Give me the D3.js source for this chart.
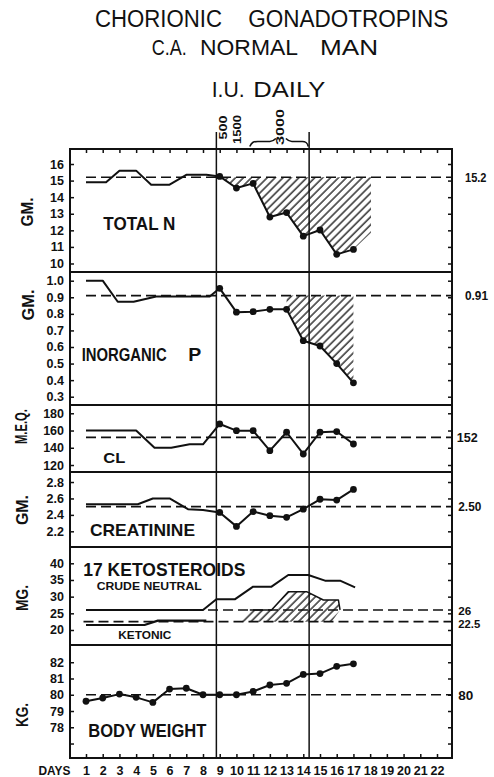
<!DOCTYPE html>
<html>
<head>
<meta charset="utf-8">
<title>Chorionic Gonadotropins, C.A. Normal Man</title>
<script src="https://cdn.jsdelivr.net/npm/d3@7"></script>
<style>
	body { margin: 0; background: #fff; }
	svg { display: block; }
	text { font-family: "Liberation Sans", Arial, Helvetica, sans-serif; fill: #111; }
</style>
</head>
<body>
<div id="chart"></div>
<script>
"use strict";

//days along the bottom
var day_ticks = [1, 2, 3, 4, 5, 6, 7, 8, 9, 10, 11, 12, 13, 14, 15, 16, 17, 18, 19, 20, 21, 22];

//gonadotropin doses, I.U. daily
var dose_labels = ["500", "1500", "3000"];
var dose_days = [9.2, 10.05, 12.6];
var treatment_days = [8.8, 14.35];
var brace_days = [10.8, 14.3];

//total N (gm)
var total_n_ticks = [10, 11, 12, 13, 14, 15, 16];
var total_n_ref = 15.2;
var total_n_fore_days = [1, 2.2, 3, 4, 4.9, 6, 7, 8.2];
var total_n_fore = [14.9, 14.9, 15.6, 15.6, 14.75, 14.75, 15.35, 15.35];
var total_n_days = [9, 10, 11, 12, 13, 14, 15, 16, 17];
var total_n = [15.25, 14.55, 14.83, 12.8, 13.07, 11.65, 12.02, 10.55, 10.85];
var total_n_shade_days = [9, 18.05, 18.05, 17, 16, 15, 14, 13, 12, 11, 10, 9];
var total_n_shade = [15.2, 15.2, 11.86, 10.85, 10.55, 12.02, 11.65, 13.07, 12.8, 14.83, 14.55, 15.25];

//inorganic P (gm)
var phos_ticks = [0.3, 0.4, 0.5, 0.6, 0.7, 0.8, 0.9, 1.0];
var phos_ref = 0.91;
var phos_fore_days = [1, 2, 2.9, 3.85, 5.2, 8.4];
var phos_fore = [1.0, 1.0, 0.873, 0.873, 0.905, 0.905];
var phos_days = [9, 10, 11, 12, 13, 14, 15, 16, 17];
var phos = [0.954, 0.81, 0.813, 0.827, 0.827, 0.638, 0.606, 0.50, 0.384];
var phos_shade_days = [13, 17, 17, 16, 15, 14, 13];
var phos_shade = [0.91, 0.91, 0.384, 0.50, 0.606, 0.638, 0.827];

//chloride (m.e.q.)
var cl_ticks = [120, 140, 160, 180];
var cl_ref = 152;
var cl_fore_days = [1, 4, 5.1, 6.1, 7.2, 8];
var cl_fore = [160, 160, 140, 140, 144, 144];
var cl_days = [9, 10, 11, 12, 13, 14, 15, 16, 17];
var cl = [167.6, 159.8, 159.8, 136.6, 158, 132.8, 158, 158.8, 144.4];

//creatinine (gm)
var creat_ticks = [2.2, 2.4, 2.6, 2.8];
var creat_ref = 2.50;
var creat_fore_days = [1, 4.1, 5, 6, 7.1, 8];
var creat_fore = [2.53, 2.53, 2.6, 2.6, 2.47, 2.46];
var creat_days = [9, 10, 11, 12, 13, 14, 15, 16, 17];
var creat = [2.43, 2.26, 2.44, 2.39, 2.37, 2.47, 2.59, 2.58, 2.71];

//17 ketosteroids (mg)
var keto_ticks = [20, 25, 30, 35, 40];
var crude_ref = 26;
var ketonic_ref = 22.5;
var crude_days = [1, 8, 8.8, 9.9, 11, 12.1, 13.1, 14.3, 15.3, 16.2, 17.1];
var crude = [26, 26, 29.2, 29.2, 33, 33, 36.5, 36.5, 34.8, 34.8, 32.8];
var ketonic_days = [1, 4.5, 5.3, 8.2];
var ketonic = [21.5, 21.5, 22.8, 22.8];
var ketonic_shade_days = [10.2, 10.8, 12.1, 13.1, 14.2, 15.2, 16.1, 16.2, 15.7];
var ketonic_shade = [22.5, 26, 26, 31.5, 31.5, 29, 29, 26, 22.5];

//body weight (kg)
var weight_ticks = [77, 78, 79, 80, 81, 82];
var weight_tick_labels = ["", "78", "79", "80", "81", "82"];
var weight_ref = 80;
var weight_days = [1, 2, 3, 4, 5, 6, 7, 8, 9, 10, 11, 12, 13, 14, 15, 16, 17];
var weight = [79.6, 79.8, 80.04, 79.84, 79.53, 80.35, 80.4, 80.0, 80.0, 80.0, 80.2, 80.6, 80.7, 81.25, 81.3, 81.75, 81.9];

// ---- layout ----
var ink = "#111";
var frame = { left: 70, right: 452, top: 149, bottom: 758 };

var x = d3.scaleLinear().domain([1, 22]).range([86, 437]);

var y_total_n = d3.scaleLinear().domain([9.487, 16.905]).range([272, 149]),
	y_phos = d3.scaleLinear().domain([0.25, 1.0525]).range([405, 272]),
	y_cl = d3.scaleLinear().domain([111.9, 189.6]).range([472, 405]),
	y_creat = d3.scaleLinear().domain([2.009, 2.922]).range([547, 472]),
	y_keto = d3.scaleLinear().domain([15.5, 44.89]).range([645, 547]),
	y_weight = d3.scaleLinear().domain([76.11, 83.06]).range([758, 645]);

var svg = d3.select("#chart").append("svg")
	.attr("width", 494)
	.attr("height", 777);

svg.append("defs").append("pattern")
	.attr("id", "hatch")
	.attr("patternUnits", "userSpaceOnUse")
	.attr("width", 5.6)
	.attr("height", 10)
	.attr("patternTransform", "rotate(45)")
	.append("line")
		.attr("x1", 1).attr("y1", 0)
		.attr("x2", 1).attr("y2", 10)
		.attr("stroke", ink)
		.attr("stroke-width", 1.3);

function zip(days, vals) {
	return days.map(function(d, i) { return [d, vals[i]]; });
}

function lineFor(y) {
	return d3.line()
		.x(function(d) { return x(d[0]); })
		.y(function(d) { return y(d[1]); });
}

function drawShade(y, days, vals) {
	svg.append("path")
		.attr("d", lineFor(y)(zip(days, vals)) + "Z")
		.attr("fill", "url(#hatch)")
		.attr("stroke", "none");
}

function drawRef(y, value, from_day) {
	svg.append("line")
		.attr("x1", x(from_day))
		.attr("x2", frame.right)
		.attr("y1", y(value))
		.attr("y2", y(value))
		.attr("stroke", ink)
		.attr("stroke-width", 1.6)
		.attr("stroke-dasharray", "10,5");
}

function drawLine(y, days, vals, width) {
	svg.append("path")
		.attr("d", lineFor(y)(zip(days, vals)))
		.attr("fill", "none")
		.attr("stroke", ink)
		.attr("stroke-width", width || 2)
		.attr("stroke-linejoin", "round");
}

function drawDots(y, days, vals) {
	svg.append("g").selectAll("circle")
		.data(zip(days, vals))
		.enter().append("circle")
			.attr("cx", function(d) { return x(d[0]); })
			.attr("cy", function(d) { return y(d[1]); })
			.attr("r", 3.4)
			.attr("fill", ink);
}

//fore period line runs into the first daily point
function drawSeries(y, fore_days, fore, days, vals) {
	drawLine(y, fore_days.concat([days[0]]), fore.concat([vals[0]]));
	drawLine(y, days, vals);
	drawDots(y, days, vals);
}

function drawAxes(y, ticks, fmt) {
	svg.append("g")
		.attr("transform", "translate(" + frame.left + ",0)")
		.call(d3.axisLeft(y).tickValues(ticks).tickSizeInner(-4).tickSizeOuter(0).tickPadding(6).tickFormat(fmt))
		.call(styleAxis);
	svg.append("g")
		.attr("transform", "translate(" + frame.right + ",0)")
		.call(d3.axisRight(y).tickValues(ticks).tickSizeInner(-4).tickSizeOuter(0).tickFormat(""))
		.call(styleAxis);
}

function styleAxis(g) {
	g.select(".domain").remove();
	g.selectAll(".tick line").attr("stroke", ink).attr("stroke-width", 1.5);
	g.selectAll(".tick text")
		.attr("fill", ink)
		.attr("font-family", "Liberation Sans, Arial, sans-serif")
		.attr("font-size", 12.5)
		.attr("font-weight", "bold");
}

function addText(str, px, py, size, len, weight, anchor) {
	var t = svg.append("text")
		.attr("x", px)
		.attr("y", py)
		.attr("font-size", size)
		.attr("font-weight", weight || "bold")
		.attr("text-anchor", anchor || "start")
		.text(str);
	if(len) t.attr("textLength", len).attr("lengthAdjust", "spacingAndGlyphs");
	return t;
}

function unitLabel(str, cx, cy, len) {
	svg.append("text")
		.attr("transform", "translate(" + cx + "," + cy + ") rotate(-90)")
		.attr("dy", "0.35em")
		.attr("font-size", 17)
		.attr("font-weight", "bold")
		.attr("text-anchor", "middle")
		.attr("textLength", len)
		.attr("lengthAdjust", "spacingAndGlyphs")
		.text(str);
}

//shaded deficits go underneath everything
drawShade(y_total_n, total_n_shade_days, total_n_shade);
drawShade(y_phos, phos_shade_days, phos_shade);
drawShade(y_keto, ketonic_shade_days, ketonic_shade);
drawLine(y_keto, ketonic_shade_days.slice(1, 8), ketonic_shade.slice(1, 8), 1.5);

//normal levels
drawRef(y_total_n, total_n_ref, 1);
drawRef(y_phos, phos_ref, 1);
drawRef(y_cl, cl_ref, 1);
drawRef(y_creat, creat_ref, 1);
drawRef(y_keto, crude_ref, 8.3);
drawRef(y_keto, ketonic_ref, 0.85);
drawRef(y_weight, weight_ref, 1);

//data
drawSeries(y_total_n, total_n_fore_days, total_n_fore, total_n_days, total_n);
drawSeries(y_phos, phos_fore_days, phos_fore, phos_days, phos);
drawSeries(y_cl, cl_fore_days, cl_fore, cl_days, cl);
drawSeries(y_creat, creat_fore_days, creat_fore, creat_days, creat);
drawLine(y_keto, crude_days, crude);
drawLine(y_keto, ketonic_days, ketonic, 2.2);
drawLine(y_weight, weight_days, weight);
drawDots(y_weight, weight_days, weight);

//frame and panel dividers
svg.append("rect")
	.attr("x", frame.left)
	.attr("y", frame.top)
	.attr("width", frame.right - frame.left)
	.attr("height", frame.bottom - frame.top)
	.attr("fill", "none")
	.attr("stroke", ink)
	.attr("stroke-width", 2);

[y_total_n, y_phos, y_cl, y_creat, y_keto].forEach(function(y) {
	svg.append("line")
		.attr("x1", frame.left).attr("x2", frame.right)
		.attr("y1", y.range()[0]).attr("y2", y.range()[0])
		.attr("stroke", ink)
		.attr("stroke-width", 2);
});

//start and end of injections
svg.selectAll(".treatment")
	.data(treatment_days)
	.enter().append("line")
		.attr("class", "treatment")
		.attr("x1", function(d) { return x(d); })
		.attr("x2", function(d) { return x(d); })
		.attr("y1", 132)
		.attr("y2", frame.bottom)
		.attr("stroke", ink)
		.attr("stroke-width", 1.5);

//axes
drawAxes(y_total_n, total_n_ticks, d3.format("d"));
drawAxes(y_phos, phos_ticks, d3.format(".1f"));
drawAxes(y_cl, cl_ticks, d3.format("d"));
drawAxes(y_creat, creat_ticks, d3.format(".1f"));
drawAxes(y_keto, keto_ticks, d3.format("d"));
drawAxes(y_weight, weight_ticks, function(d, i) { return weight_tick_labels[i]; });

svg.append("g")
	.attr("transform", "translate(0," + frame.top + ")")
	.call(d3.axisTop(x).tickValues(day_ticks).tickSizeInner(-4).tickSizeOuter(0).tickFormat(""))
	.call(styleAxis);

svg.append("g")
	.attr("transform", "translate(0," + frame.bottom + ")")
	.call(d3.axisBottom(x).tickValues(day_ticks).tickSizeInner(-4).tickSizeOuter(0).tickPadding(8).tickFormat(d3.format("d")))
	.call(styleAxis);

addText("DAYS", 38.5, 775, 12.5, 32);

//titles
addText("CHORIONIC", 95, 26.7, 23, 127, "normal");
addText("GONADOTROPINS", 248.3, 26.7, 23, 200, "normal");
addText("C.A.", 151.7, 55, 22, 35, "normal");
addText("NORMAL", 200, 55, 22, 98, "normal");
addText("MAN", 320, 55, 22, 58, "normal");
addText("I.U.", 211.7, 96.7, 22, 33, "normal");
addText("DAILY", 253.3, 96.7, 22, 72, "normal");

//dose labels, read upwards
var dose_bottom = [139.5, 144, 145],
	dose_len = [24, 29, 36];
svg.selectAll(".dose")
	.data(dose_labels)
	.enter().append("text")
		.attr("class", "dose")
		.attr("transform", function(d, i) { return "translate(" + (x(dose_days[i]) + 4) + "," + dose_bottom[i] + ") rotate(-90)"; })
		.attr("font-size", 11.5)
		.attr("font-weight", "bold")
		.attr("textLength", function(d, i) { return dose_len[i]; })
		.attr("lengthAdjust", "spacingAndGlyphs")
		.text(function(d) { return d; });

//brace under the 3000 label
var bl = x(brace_days[0]), br = x(brace_days[1]), bm = x(dose_days[2]);
svg.append("path")
	.attr("d", "M" + bl + ",146.5 C" + (bl + 2) + ",142 " + (bl + 4) + ",141.5 " + (bl + 8) + ",141.5 L" + (bm - 10) + ",141.5 C" + (bm - 7) + ",141.5 " + (bm - 6) + ",140.5 " + (bm - 4) + ",138.5" +
		" M" + (bm + 6) + ",138.5 C" + (bm + 8) + ",140.5 " + (bm + 9) + ",141.5 " + (bm + 12) + ",141.5 L" + (br - 6) + ",141.5 C" + (br - 3) + ",141.5 " + (br - 1) + ",142 " + br + ",146.5")
	.attr("fill", "none")
	.attr("stroke", ink)
	.attr("stroke-width", 1.6);

//unit labels
unitLabel("GM.", 27, 212, 29);
unitLabel("GM.", 28, 305, 31);
unitLabel("M.E.Q.", 21, 426.5, 35);
unitLabel("GM.", 22.5, 510, 30);
unitLabel("MG.", 22, 598, 26);
unitLabel("KG.", 22, 715, 24);

//panel names
addText("TOTAL N", 103.3, 230, 18.5, 72);
addText("INORGANIC", 81.7, 360.5, 18.5, 85);
addText("P", 188.3, 360.5, 18.5, 13);
addText("CL", 103.3, 463.3, 14.5, 22);
addText("CREATININE", 90, 536, 17, 105);
addText("17 KETOSTEROIDS", 83.3, 576, 18.5, 162);
addText("CRUDE NEUTRAL", 96.7, 590, 11.5, 105);
addText("KETONIC", 118.3, 639, 10, 53);
addText("BODY WEIGHT", 88.3, 736.7, 18.5, 118);

//normal values at the right
addText("15.2", 465, y_total_n(total_n_ref) + 4.5, 12, 21.5);
addText("0.91", 465, y_phos(phos_ref) + 4.5, 12, 23);
addText("152", 456.7, y_cl(cl_ref) + 5, 13, 21);
addText("2.50", 458.3, y_creat(creat_ref) + 4.5, 12, 23);
addText("26", 458.3, 615, 10.5, 13);
addText("22.5", 458.3, 627.5, 10.5, 22);
addText("80", 458.3, y_weight(weight_ref) + 5, 13, 15);
</script>
</body>
</html>
